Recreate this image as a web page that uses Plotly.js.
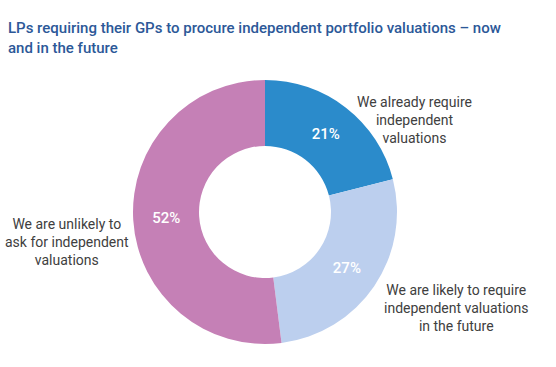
<!DOCTYPE html>
<html>
<head>
<meta charset="utf-8">
<script src="https://cdn.plot.ly/plotly-3.0.1.min.js"></script>
<style>html,body{margin:0;padding:0;background:#fff;}#chart{width:556px;height:367px;}</style>
</head>
<body>
<div id="chart"></div>
<script>
const categories = [
  "We already require<br>independent<br>valuations",
  "We are likely to require<br>independent valuations<br>in the future",
  "We are unlikely to<br>ask for independent<br>valuations"
];
const values = [21, 27, 52];
const colors = ["#2b8bcb", "#bccfee", "#c580b6"];
const titleText = "LPs requiring their GPs to procure independent portfolio valuations – now<br>and in the future";

const labelPos = [
  {x: 414, y: 120},
  {x: 456, y: 308},
  {x: 67, y: 242}
];
const W = 556, H = 367;
const font = "Roboto, 'Liberation Sans', sans-serif";

const trace = {
  type: "pie",
  values: values,
  labels: categories,
  marker: {colors: colors, line: {width: 0}},
  hole: 0.5,
  sort: false,
  direction: "clockwise",
  rotation: 0,
  textinfo: "percent",
  texttemplate: "%{value}%",
  textposition: "inside",
  insidetextorientation: "horizontal",
  textfont: {color: "#ffffff", size: 15, family: font, weight: 500},
  domain: {x: [133/W, 397/W], y: [1 - 344/H, 1 - 80/H]},
  showlegend: false,
  hoverinfo: "none"
};

const annotations = categories.map((c, i) => ({
  text: c,
  x: labelPos[i].x / W,
  y: 1 - labelPos[i].y / H,
  xref: "paper", yref: "paper",
  xanchor: "center", yanchor: "middle",
  align: "center",
  showarrow: false,
  font: {family: font, size: 14, color: "#404040"}
}));

const layout = {
  width: W, height: H,
  margin: {l: 0, r: 0, t: 0, b: 0},
  paper_bgcolor: "#ffffff",
  title: {
    text: titleText,
    x: 8 / W, xanchor: "left", xref: "paper",
    y: 1 - 33 / H, yanchor: "middle", yref: "container",
    font: {family: font, size: 15, color: "#2c5898", weight: 500}
  },
  annotations: annotations
};

Plotly.newPlot("chart", [trace], layout, {staticPlot: true});
</script>
</body>
</html>
